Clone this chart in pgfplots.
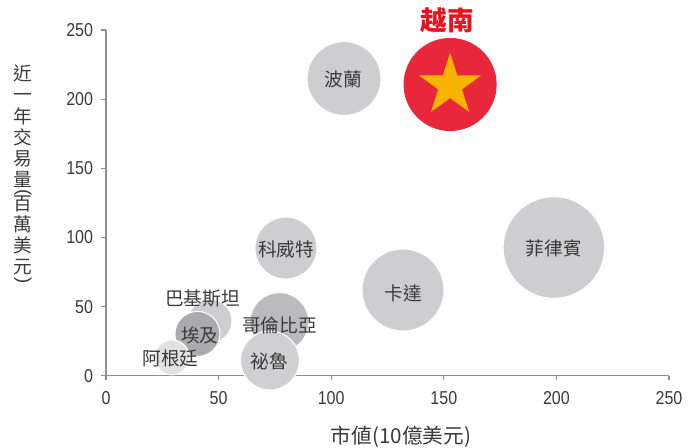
\documentclass[border=0pt]{standalone}
\usepackage{graphicx}
\usepackage{pgfplots}
\pgfplotsset{compat=1.18}
\usepackage{fontspec}
\setmainfont{Liberation Sans}
\newfontfamily\cjk{Noto Sans CJK TC}
\newfontfamily\tickfont[FakeStretch=0.86]{Liberation Sans}

\definecolor{axisgray}{HTML}{8E8E8E}
\definecolor{labelgray}{HTML}{3A3A3A}
\definecolor{bubgray}{HTML}{CECED0}
\definecolor{colgray}{HTML}{BBBBBD}
\definecolor{egygray}{HTML}{ABABAD}
\definecolor{peruc}{HTML}{D0D0D2}
\definecolor{arggray}{HTML}{E2E2E3}
\definecolor{vnred}{HTML}{E8283A}
\definecolor{vnlabel}{HTML}{E8131F}
\definecolor{stargold}{HTML}{F6B300}

\pgfdeclareplotmark{fivestar}{%
  \pgfpathmoveto{\pgfpointpolar{90}{\pgfplotmarksize}}%
  \pgfpathlineto{\pgfpointpolar{126}{0.382*\pgfplotmarksize}}%
  \pgfpathlineto{\pgfpointpolar{162}{\pgfplotmarksize}}%
  \pgfpathlineto{\pgfpointpolar{198}{0.382*\pgfplotmarksize}}%
  \pgfpathlineto{\pgfpointpolar{234}{\pgfplotmarksize}}%
  \pgfpathlineto{\pgfpointpolar{270}{0.382*\pgfplotmarksize}}%
  \pgfpathlineto{\pgfpointpolar{306}{\pgfplotmarksize}}%
  \pgfpathlineto{\pgfpointpolar{342}{0.382*\pgfplotmarksize}}%
  \pgfpathlineto{\pgfpointpolar{18}{\pgfplotmarksize}}%
  \pgfpathlineto{\pgfpointpolar{54}{0.382*\pgfplotmarksize}}%
  \pgfpathclose
  \pgfusepathqfill
}

\begin{document}
\begin{tikzpicture}[lab/.style={font=\cjk\fontsize{14}{14}\selectfont, text=labelgray, inner sep=0pt}]
\begin{axis}[
  set layers,
  at={(0,0)}, anchor=origin,
  scale only axis, width=422.25pt, height=259.3pt,
  xmin=0, xmax=250, ymin=0, ymax=250,
  axis x line*=bottom, axis y line*=left,
  axis line style={draw=axisgray, line width=0.9pt, -},
  xtick={0,50,...,250}, ytick={0,50,...,250},
  tick style={draw=axisgray, line width=0.9pt},
  tick align=outside, major tick length=3.5pt,
  tick label style={font=\tickfont\fontsize{14}{14}\selectfont, text=labelgray, inner sep=0pt},
  /pgf/number format/assume math mode=true,
  xticklabel style={yshift=-8pt},
  yticklabel style={xshift=-6pt},
  clip=false,
  bub/.style n args={3}{only marks, draw=#3, mark=*, mark size=#1,
     mark options={draw=#3, fill=#2, line width=0.8pt}},
]
% bubbles: mark size = radius in px * 0.75 pt
\addplot[bub={38.1pt}{bubgray}{white}] coordinates {(198.9,92.7)};   % Philippines
\addplot[bub={30.75pt}{bubgray}{white}] coordinates {(131.9,62.0)};  % Qatar
\addplot[bub={27.75pt}{bubgray}{white}] coordinates {(105.7,214.9)}; % Poland
\addplot[bub={23.25pt}{bubgray}{white}] coordinates {(79.9,92.3)};   % Kuwait
\addplot[bub={16.5pt}{bubgray}{white}] coordinates {(46.2,39.5)};    % Pakistan
\addplot[bub={16.9pt}{egygray}{white}] coordinates {(40.6,30.2)};    % Egypt
\addplot[bub={13.1pt}{arggray}{white}] coordinates {(29.3,13.2)};    % Argentina
\addplot[bub={22.1pt}{colgray}{white}] coordinates {(77.0,38.8)};    % Colombia
\addplot[bub={22.1pt}{peruc}{white}] coordinates {(72.8,11.0)};      % Peru
\addplot[bub={34.5pt}{vnred}{vnred}] coordinates {(152.8,210.6)};    % Vietnam
\addplot[only marks, draw=stargold, mark=fivestar, mark size=24.5pt, mark options={fill=stargold, draw=stargold}] coordinates {(152.8,209.8)};

\begin{pgfonlayer}{axis foreground}
\node[lab] at (axis cs:105.5,214.0) {波蘭};
\node[lab] at (axis cs:198.9,92.2) {菲律賓};
\node[lab] at (axis cs:131.9,59.8) {卡達};
\node[lab] at (axis cs:80.0,91.0) {科威特};
\node[lab] at (axis cs:77.0,36.7) {哥倫比亞};
\node[lab] at (axis cs:72.4,10.1) {祕魯};
\node[lab] at (axis cs:42.9,56.0) {巴基斯坦};
\node[lab] at (axis cs:41.7,29.4) {埃及};
\node[lab] at (axis cs:28.7,12.6) {阿根廷};

\node[font=\cjk\bfseries\fontsize{20}{20}\selectfont, text=vnlabel, inner sep=0pt]
  at (axis description cs:0.6057,1.029) {越南};

\node[anchor=north, inner sep=0pt, align=center, text=labelgray,
      font=\cjk\fontsize{14}{15.8}\selectfont]
  at (axis description cs:-0.1474,0.8988)
  {近\\一\\年\\交\\易\\量\\[-13.2pt]{\fontspec{Liberation Sans}\rotatebox{-90}{(}}\\百\\萬\\美\\元\\[-13.5pt]{\fontspec{Liberation Sans}\rotatebox{-90}{)}}};

\node[inner sep=0pt, text=labelgray, font=\cjk\fontsize{15.5}{15.5}\selectfont]
  at (axis description cs:0.524,-0.177) {市値(10億美元)};
\end{pgfonlayer}
\end{axis}
\pgfresetboundingbox
\path (-79.5pt,-54.2pt) rectangle (440.25pt,281.8pt);
\end{tikzpicture}
\end{document}
